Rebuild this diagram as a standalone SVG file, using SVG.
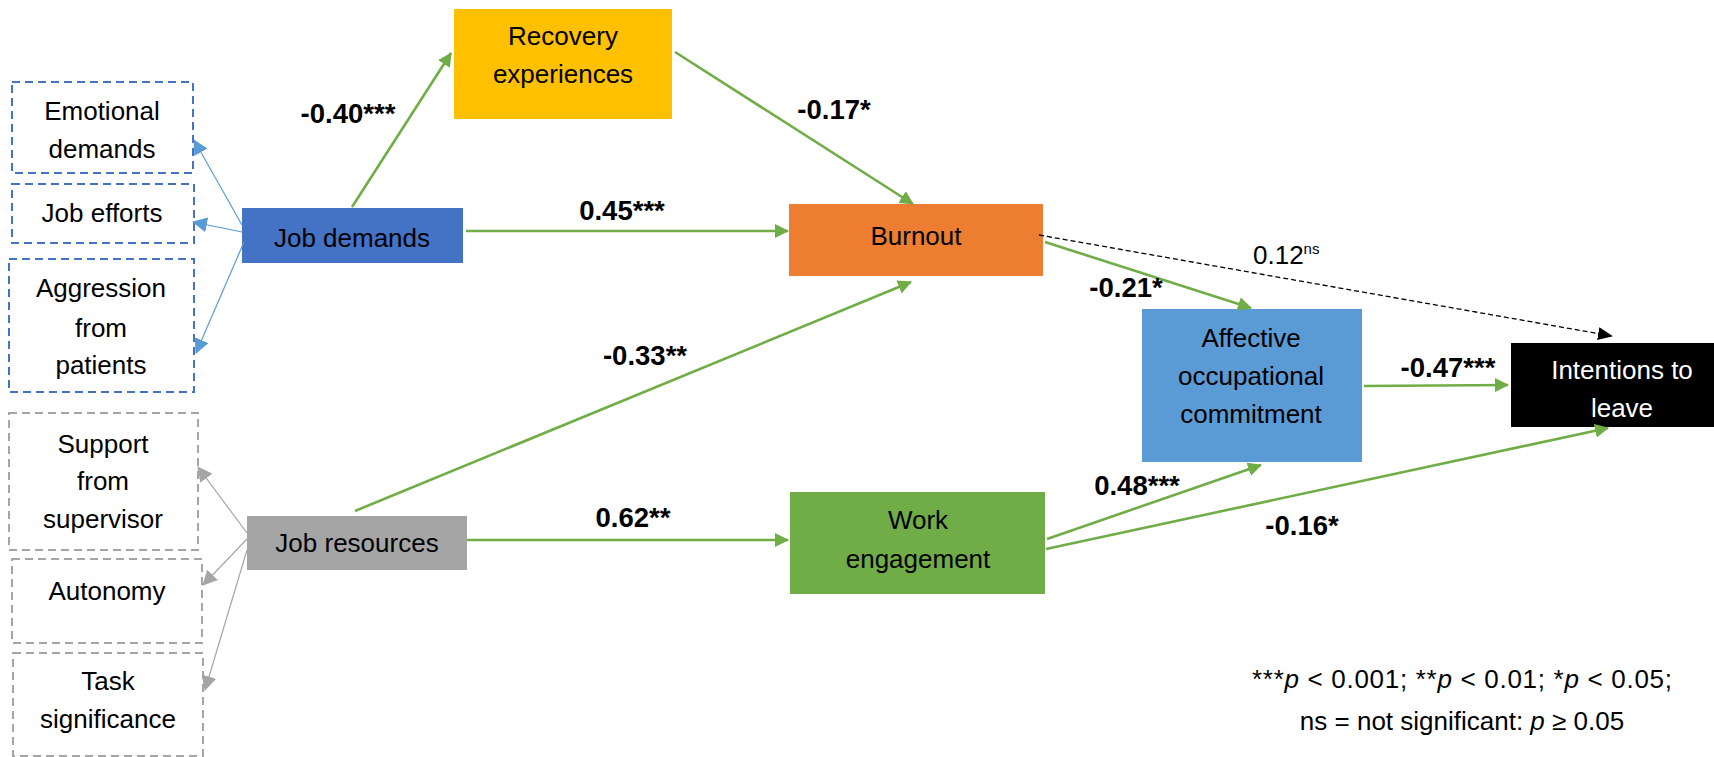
<svg xmlns="http://www.w3.org/2000/svg" width="1714" height="757" viewBox="0 0 1714 757">
<style>
  text { font-family: "Liberation Sans", Arial, sans-serif; font-size: 26px; fill: #000; text-anchor: middle; }
  .lbl { font-weight: bold; font-size: 27.5px; }
  .wt { fill: #fff; }
  .g { stroke: #70AD47; stroke-width: 2.6; fill: none; }
  .b { stroke: #5B9BD5; stroke-width: 1.2; fill: none; }
  .gr { stroke: #A5A5A5; stroke-width: 1.2; fill: none; }
  .d { stroke: #000; stroke-width: 1.3; stroke-dasharray: 5 3; fill: none; }
  .dbox { fill: #fff; stroke-width: 2; stroke-dasharray: 8 5; }
  .leg { font-size: 26px; }
</style>
<defs>
  <marker id="ag" markerUnits="userSpaceOnUse" markerWidth="14" markerHeight="14" viewBox="0 0 14 14" refX="13" refY="7" orient="auto"><path d="M0,0 L14,7 L0,14 z" fill="#70AD47"/></marker>
  <marker id="ab" markerUnits="userSpaceOnUse" markerWidth="15" markerHeight="15" viewBox="0 0 15 15" refX="14" refY="7.5" orient="auto"><path d="M0,0 L15,7.5 L0,15 z" fill="#5B9BD5"/></marker>
  <marker id="agr" markerUnits="userSpaceOnUse" markerWidth="15" markerHeight="15" viewBox="0 0 15 15" refX="14" refY="7.5" orient="auto"><path d="M0,0 L15,7.5 L0,15 z" fill="#A5A5A5"/></marker>
  <marker id="ak" markerUnits="userSpaceOnUse" markerWidth="15" markerHeight="13" viewBox="0 0 15 13" refX="14" refY="6.5" orient="auto"><path d="M0,0 L15,6.5 L0,13 z" fill="#000"/></marker>
</defs>
<rect width="1714" height="757" fill="#fff"/>

<g id="emotional-demands">
  <rect class="dbox" x="12" y="82" width="181" height="91" stroke="#4472C4"/>
  <text x="102" y="120">Emotional</text>
  <text x="102" y="158">demands</text>
</g>
<g id="job-efforts">
  <rect class="dbox" x="12" y="184" width="182" height="59" stroke="#4472C4"/>
  <text x="102" y="222">Job efforts</text>
</g>
<g id="aggression">
  <rect class="dbox" x="9" y="259" width="185" height="133" stroke="#4472C4"/>
  <text x="101" y="297">Aggression</text>
  <text x="101" y="337">from</text>
  <text x="101" y="374">patients</text>
</g>
<g id="support">
  <rect class="dbox" x="9" y="413" width="189" height="137" stroke="#A5A5A5"/>
  <text x="103" y="453">Support</text>
  <text x="103" y="490">from</text>
  <text x="103" y="528">supervisor</text>
</g>
<g id="autonomy">
  <rect class="dbox" x="12" y="559" width="190" height="84" stroke="#A5A5A5"/>
  <text x="107" y="600">Autonomy</text>
</g>
<g id="task-significance">
  <rect class="dbox" x="13" y="653" width="190" height="103" stroke="#A5A5A5"/>
  <text x="108" y="690">Task</text>
  <text x="108" y="728">significance</text>
</g>

<g id="job-demands">
  <rect x="242" y="208" width="221" height="55" fill="#4472C4"/>
  <text x="352" y="247">Job demands</text>
</g>
<g id="job-resources">
  <rect x="247" y="516" width="220" height="54" fill="#A5A5A5"/>
  <text x="357" y="552">Job resources</text>
</g>
<g id="recovery">
  <rect x="454" y="9" width="218" height="110" fill="#FFC000"/>
  <text x="563" y="45">Recovery</text>
  <text x="563" y="83">experiences</text>
</g>
<g id="burnout">
  <rect x="789" y="204" width="254" height="72" fill="#ED7D31"/>
  <text x="916" y="245">Burnout</text>
</g>
<g id="work-engagement">
  <rect x="790" y="492" width="255" height="102" fill="#70AD47"/>
  <text x="918" y="529">Work</text>
  <text x="918" y="568">engagement</text>
</g>
<g id="affective">
  <rect x="1142" y="309" width="220" height="153" fill="#5B9BD5"/>
  <text x="1251" y="347">Affective</text>
  <text x="1251" y="385">occupational</text>
  <text x="1251" y="423">commitment</text>
</g>
<g id="intentions">
  <rect x="1511" y="343" width="203" height="84" fill="#000"/>
  <text class="wt" x="1622" y="379">Intentions to</text>
  <text class="wt" x="1622" y="417">leave</text>
</g>

<g id="connectors">
  <line class="b" x1="242" y1="225" x2="194" y2="140" marker-end="url(#ab)"/>
  <line class="b" x1="242" y1="232" x2="193" y2="222" marker-end="url(#ab)"/>
  <line class="b" x1="244" y1="242" x2="196" y2="353" marker-end="url(#ab)"/>
  <line class="gr" x1="247" y1="533" x2="198" y2="467" marker-end="url(#agr)"/>
  <line class="gr" x1="247" y1="539" x2="203" y2="585" marker-end="url(#agr)"/>
  <line class="gr" x1="247" y1="550" x2="205" y2="690" marker-end="url(#agr)"/>
  <line class="g" x1="352" y1="207" x2="451" y2="53" marker-end="url(#ag)"/>
  <line class="g" x1="466" y1="231" x2="788" y2="231" marker-end="url(#ag)"/>
  <line class="g" x1="675" y1="52" x2="913" y2="204" marker-end="url(#ag)"/>
  <line class="g" x1="355" y1="511" x2="911" y2="282" marker-end="url(#ag)"/>
  <line class="g" x1="467" y1="540" x2="788" y2="540" marker-end="url(#ag)"/>
  <line class="g" x1="1045" y1="242" x2="1251" y2="308" marker-end="url(#ag)"/>
  <line class="g" x1="1047" y1="539" x2="1261" y2="465" marker-end="url(#ag)"/>
  <line class="g" x1="1046" y1="549" x2="1608" y2="428" marker-end="url(#ag)"/>
  <line class="g" x1="1364" y1="386" x2="1508" y2="385" marker-end="url(#ag)"/>
  <line class="d" x1="1039" y1="235" x2="1612" y2="336" marker-end="url(#ak)"/>
</g>

<g id="labels">
  <text class="lbl" x="348" y="123">-0.40***</text>
  <text class="lbl" x="622" y="220">0.45***</text>
  <text class="lbl" x="834" y="119">-0.17*</text>
  <text class="lbl" x="645" y="365">-0.33**</text>
  <text class="lbl" x="633" y="527">0.62**</text>
  <text class="lbl" x="1126" y="297">-0.21*</text>
  <text class="lbl" x="1448" y="377">-0.47***</text>
  <text class="lbl" x="1137" y="495">0.48***</text>
  <text class="lbl" x="1302" y="535">-0.16*</text>
  <text x="1253" y="264" style="text-anchor:start">0.12<tspan font-size="15" dy="-10">ns</tspan></text>
</g>

<g id="legend">
  <text class="leg" x="1462" y="688" textLength="420" lengthAdjust="spacing">***<tspan font-style="italic">p</tspan> &lt; 0.001; **<tspan font-style="italic">p</tspan> &lt; 0.01; *<tspan font-style="italic">p</tspan> &lt; 0.05;</text>
  <text class="leg" x="1462" y="730">ns = not significant: <tspan font-style="italic">p</tspan> ≥ 0.05</text>
</g>
</svg>
